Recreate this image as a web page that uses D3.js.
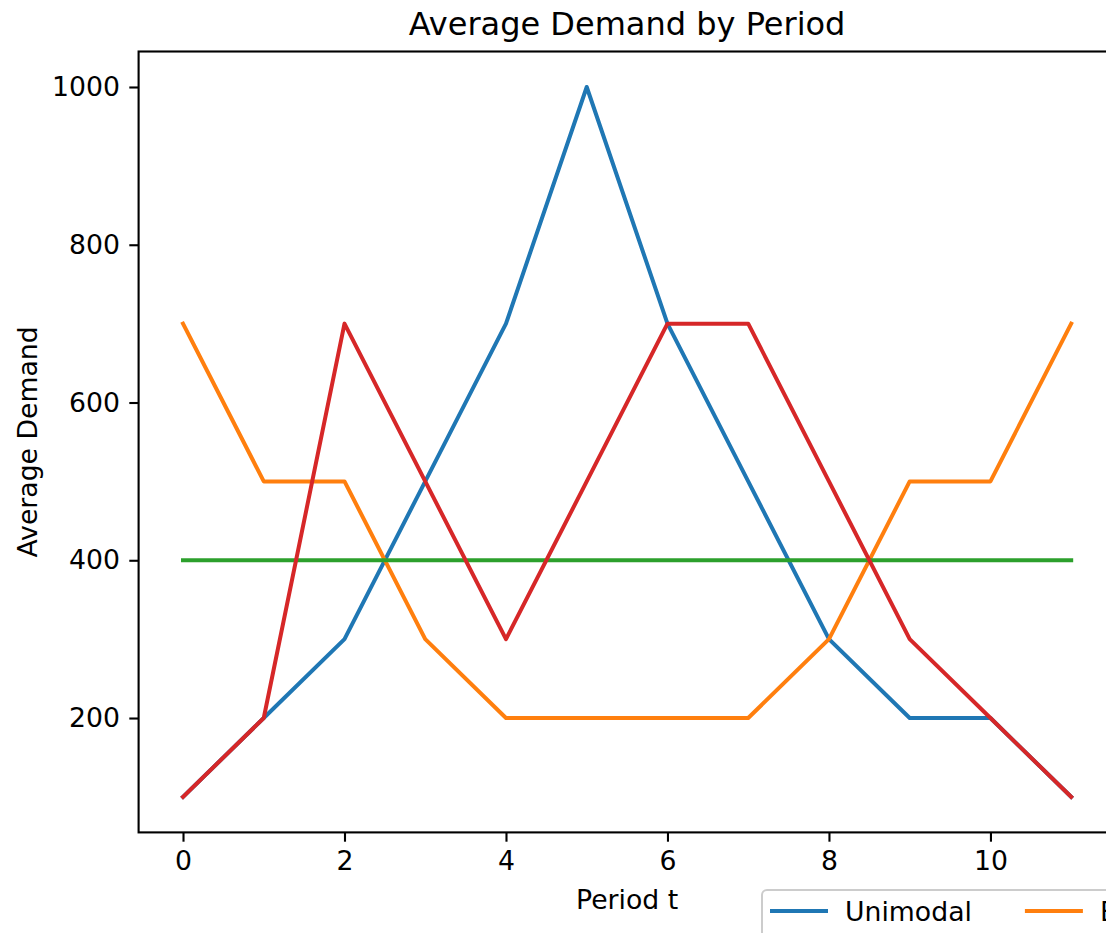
<!DOCTYPE html>
<html><head><meta charset="utf-8">
<script src="https://cdn.jsdelivr.net/npm/d3@7"></script>
<style>html,body{margin:0;padding:0;background:#fff;overflow:hidden}svg{display:block}</style>
</head><body><svg id="c" width="1106" height="933"></svg>
<script>
const periods = [0,1,2,3,4,5,6,7,8,9,10,11];
const seriesNames = ["Unimodal", "Bathtub", "Constant", "Bimodal"];
const unimodal = [100,200,300,500,700,1000,700,500,300,200,200,100];
const bathtub  = [700,500,500,300,200,200,200,200,300,500,500,700];
const constant = [400,400,400,400,400,400,400,400,400,400,400,400];
const bimodal  = [100,200,700,500,300,500,700,700,500,300,200,100];
const colors = ["#1f77b4", "#ff7f0e", "#2ca02c", "#d62728"];
const xTicks = [0,2,4,6,8,10];
const yTicks = [200,400,600,800,1000];

const svg = d3.select("#c");
const font = "DejaVu Sans, sans-serif";
const L = 138.6, R = 1115.6, T = 51.5, B = 832.4;
const x = d3.scaleLinear().domain([-0.55, 11.55]).range([L, R]);
const y = d3.scaleLinear().domain([55, 1045]).range([B, T]);

const all = [unimodal, bathtub, constant, bimodal];
const line = d3.line().x((d,i)=>x(periods[i])).y(d=>y(d));
const g = svg.append("g");
g.append("clipPath").attr("id","clip").append("rect").attr("x",L).attr("y",T).attr("width",R-L).attr("height",B-T);
all.forEach((s,k)=>{
  g.append("path").attr("d", line(s)).attr("fill","none").attr("stroke",colors[k])
   .attr("stroke-width",4).attr("stroke-linecap","square").attr("stroke-linejoin","round")
   .attr("clip-path","url(#clip)");
});

// axes
const xAxis = d3.axisBottom(x).tickValues(xTicks).tickSize(9.3).tickPadding(9.3).tickFormat(d3.format("d"));
const yAxis = d3.axisLeft(y).tickValues(yTicks).tickSize(9.3).tickPadding(9.3).tickFormat(d3.format("d"));
const gx = svg.append("g").attr("transform",`translate(0,${B})`).call(xAxis);
const gy = svg.append("g").attr("transform",`translate(${L},0)`).call(yAxis);
[gx,gy].forEach(a=>{
  a.select(".domain").remove();
  a.selectAll(".tick line").attr("stroke","#000").attr("stroke-width",2.1);
  a.selectAll(".tick text").attr("fill","#000").attr("font-family",font).attr("font-size",26.7);
});
// spines
const sp = svg.append("g").attr("stroke","#000").attr("stroke-width",2.1).attr("fill","none");
sp.append("rect").attr("x",L).attr("y",T).attr("width",R-L).attr("height",B-T);

// title & labels
svg.append("text").attr("x",(L+R)/2).attr("y",35).attr("text-anchor","middle")
  .attr("font-family",font).attr("font-size",32).attr("fill","#000").text("Average Demand by Period");
svg.append("text").attr("x",(L+R)/2).attr("y",909).attr("text-anchor","middle")
  .attr("font-family",font).attr("font-size",26.7).attr("fill","#000").text("Period t");
svg.append("text").attr("transform",`translate(37,${(T+B)/2}) rotate(-90)`).attr("text-anchor","middle")
  .attr("font-family",font).attr("font-size",26.7).attr("fill","#000").text("Average Demand");

// legend (extends past the page edge, as in the reference)
const lg = svg.append("g");
lg.append("rect").attr("x",762).attr("y",890).attr("width",1200).attr("height",120).attr("rx",5)
  .attr("fill","#fff").attr("fill-opacity",0.8).attr("stroke","#ccc").attr("stroke-width",2);
let lx = 770;
seriesNames.forEach((n,k)=>{
  lg.append("line").attr("x1",lx).attr("x2",lx+58).attr("y1",911).attr("y2",911)
    .attr("stroke",colors[k]).attr("stroke-width",4);
  const t = lg.append("text").attr("x",lx+75).attr("y",920.5).attr("font-family",font)
    .attr("font-size",26.7).attr("fill","#000").text(n);
  const w = t.node().getComputedTextLength();
  lx = lx + 75 + w + 53;
});
</script></body></html>
